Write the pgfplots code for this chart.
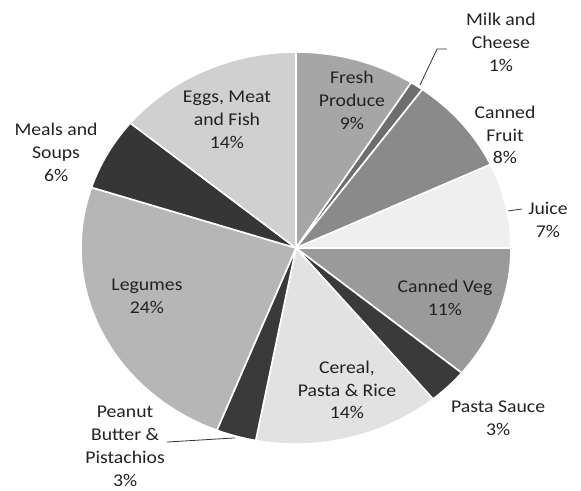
\documentclass[border=0pt]{standalone}
\usepackage{pgfplots}
\pgfplotsset{compat=1.18}
\usepackage{fontspec}
\setmainfont{Carlito}
\definecolor{cFresh}{HTML}{A6A6A6}
\definecolor{cMilk}{HTML}{6E6E6E}
\definecolor{cFruit}{HTML}{8A8A8A}
\definecolor{cJuice}{HTML}{EFEFEF}
\definecolor{cVeg}{HTML}{9A9A9A}
\definecolor{cSauce}{HTML}{3A3A3A}
\definecolor{cCereal}{HTML}{E2E2E2}
\definecolor{cPeanut}{HTML}{3A3A3A}
\definecolor{cLegumes}{HTML}{B6B6B6}
\definecolor{cMeals}{HTML}{363636}
\definecolor{cEggs}{HTML}{D0D0D0}
\definecolor{txt}{HTML}{222222}
\tikzset{lbl/.style={font=\fontsize{18}{23}\selectfont, text=txt, align=center, xscale=1.1, transform shape}}
% cumulative percentages, clockwise from 12 o'clock
% Fresh 9, Milk 1, Fruit 8, Juice 7, Veg 11, Sauce 3, Cereal 14, Peanut 3, Legumes 24, Meals 6, Eggs 14
\newcommand{\slice}[3]{\addplot[fill=#1, draw=white, line width=1.6pt, line join=round,
  data cs=polar, domain={90-3.6*#2}:{90-3.6*#3}, samples=60] ({x},{1}) -- (axis cs:0,0) -- cycle;}
\begin{document}
\begin{tikzpicture}
\begin{axis}[
  scale only axis, width=581bp, height=491bp,
  xmin=-1.3767, xmax=1.3256, ymin=-1.2398, ymax=1.2653,
  hide axis, clip=false,
]
\slice{cFresh}{0}{9}
\slice{cMilk}{9}{10}
\slice{cFruit}{10}{18}
\slice{cJuice}{18}{25}
\slice{cVeg}{25}{36}
\slice{cSauce}{36}{39}
\slice{cCereal}{39}{53}
\slice{cPeanut}{53}{56}
\slice{cLegumes}{56}{80}
\slice{cMeals}{80}{86}
\slice{cEggs}{86}{100}
\path (rel axis cs:0,0) rectangle (rel axis cs:1,1);
\draw[black!80, line width=0.8pt] (axis cs:0.577,0.832) -- (axis cs:0.656,1.015) -- (axis cs:0.702,1.015);
\draw[black!80, line width=0.8pt] (axis cs:0.986,0.189) -- (axis cs:1.051,0.199);
\draw[black!80, line width=0.8pt] (axis cs:-0.600,-0.990) -- (axis cs:-0.284,-0.969);
\node[lbl] at (axis cs:-0.321,0.653) {Eggs, Meat\\and Fish\\14\%};
\node[lbl] at (axis cs:-1.116,0.490) {Meals and\\Soups\\6\%};
\node[lbl] at (axis cs:0.260,0.755) {Fresh\\Produce\\9\%};
\node[lbl] at (axis cs:0.953,1.051) {Milk and\\Cheese\\1\%};
\node[lbl] at (axis cs:0.972,0.577) {Canned\\Fruit\\8\%};
\node[lbl] at (axis cs:1.172,0.143) {Juice\\7\%};
\node[lbl] at (axis cs:0.693,-0.255) {Canned Veg\\11\%};
\node[lbl] at (axis cs:0.940,-0.867) {Pasta Sauce\\3\%};
\node[lbl] at (axis cs:0.237,-0.724) {Cereal,\\Pasta \& Rice\\14\%};
\node[lbl] at (axis cs:-0.693,-0.245) {Legumes\\24\%};
\node[lbl] at (axis cs:-0.795,-1.010) {Peanut\\Butter \&\\Pistachios\\3\%};
\end{axis}
\end{tikzpicture}
\end{document}
